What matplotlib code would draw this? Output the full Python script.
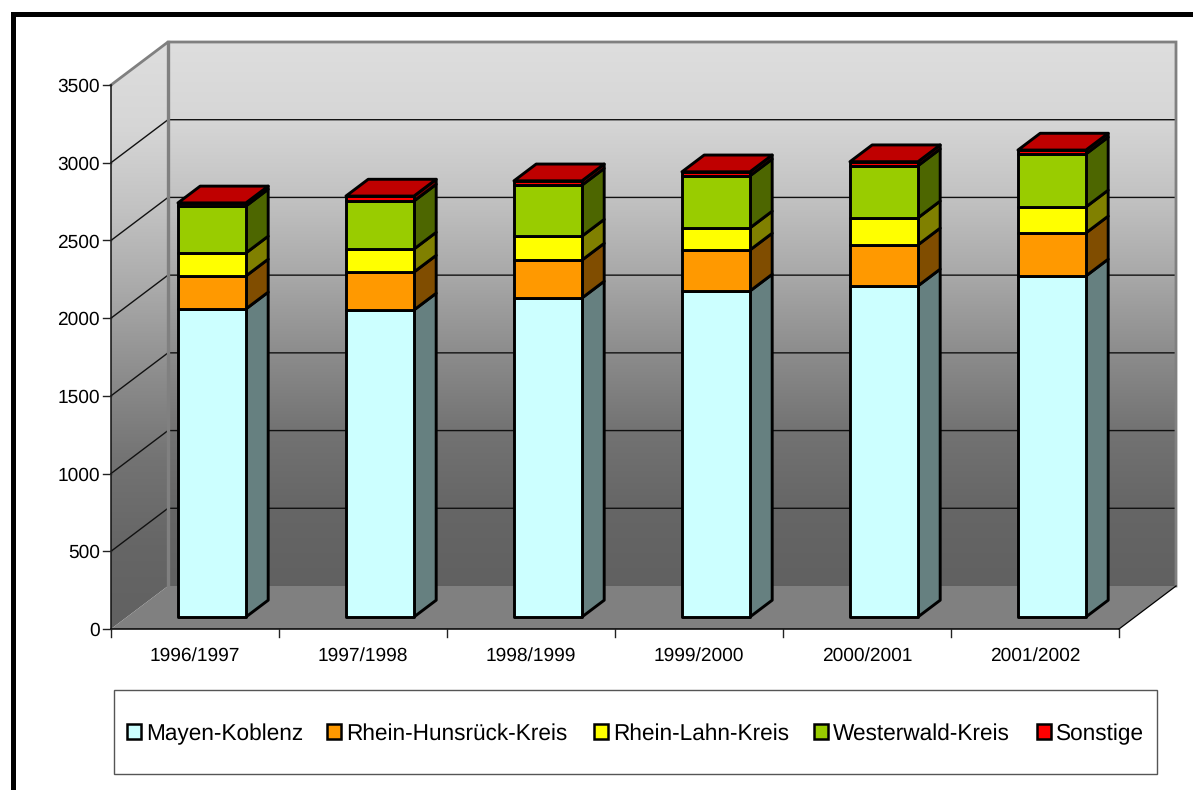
"""Stacked 3D-style column chart of enrolment by district."""

import numpy as np
import matplotlib

matplotlib.use("Agg")
import matplotlib.pyplot as plt
from matplotlib.colors import LinearSegmentedColormap
from matplotlib.patches import Polygon, Rectangle

plt.rcParams["font.family"] = ["Liberation Sans", "DejaVu Sans"]
plt.rcParams["text.hinting"] = "none"

years = ["1996/1997", "1997/1998", "1998/1999", "1999/2000", "2000/2001", "2001/2002"]
mayen_koblenz = [1982, 1975, 2052, 2097, 2130, 2194]
rhein_hunsrueck = [212, 244, 244, 264, 264, 277]
rhein_lahn = [148, 148, 154, 142, 174, 167]
westerwald = [302, 309, 328, 335, 335, 341]
sonstige = [20, 32, 28, 26, 26, 25]
y_ticks = [0, 500, 1000, 1500, 2000, 2500, 3000, 3500]

series_names = ["Mayen-Koblenz", "Rhein-Hunsrück-Kreis", "Rhein-Lahn-Kreis", "Westerwald-Kreis", "Sonstige"]
series_values = [mayen_koblenz, rhein_hunsrueck, rhein_lahn, westerwald, sonstige]
series_colors = ["#CCFFFF", "#FF9900", "#FFFF00", "#99CC00", "#FF0000"]

# wall shading from top to bottom, one grey level per band between grid lines
wall_greys = [0.87, 0.84, 0.76, 0.66, 0.55, 0.45, 0.40, 0.38]

W, H = 1193, 790
X0, Y0 = 111, 629
PX_PER_CAT = 168.0
PX_PER_UNIT = 544.0 / 3500.0

# depth vector of the chart box, in data units
DX = 57 / PX_PER_CAT
DY = 43 / PX_PER_UNIT
BAR_LEFT = 51 / PX_PER_CAT
BAR_WIDTH = 68 / PX_PER_CAT
BAR_D0, BAR_D1 = 0.28, 0.67

GREY = "#808080"


def shade(color, factor):
    rgb = np.array(matplotlib.colors.to_rgb(color)) * factor
    return tuple(rgb)


def depth(x, y, d):
    return (x + d * DX, y + d * DY)


def gradient_fill(ax, corners):
    xs = [c[0] for c in corners]
    ys = [c[1] for c in corners]
    cmap = LinearSegmentedColormap.from_list("wall", [(g, g, g) for g in wall_greys])
    ramp = np.linspace(0, 1, 256).reshape(-1, 1)
    img = ax.imshow(ramp, cmap=cmap, vmin=0, vmax=1, aspect="auto", zorder=1,
                    extent=(min(xs), max(xs), min(ys), max(ys)), origin="upper")
    img.set_clip_path(Polygon(corners, closed=True, transform=ax.transData))


def draw_box(ax):
    n = len(years)
    top = y_ticks[-1]
    back = [depth(0, 0, 1), depth(n, 0, 1), depth(n, top, 1), depth(0, top, 1)]
    left = [(0, 0), depth(0, 0, 1), depth(0, top, 1), (0, top)]
    floor = [(0, 0), (n, 0), depth(n, 0, 1), depth(0, 0, 1)]
    gradient_fill(ax, back)
    gradient_fill(ax, left)
    ax.add_patch(Polygon(floor, closed=True, fc="#808080", ec="none", zorder=2))

    # grid lines run along the left wall and across the back wall
    for v in y_ticks[1:-1]:
        ax.plot(*zip((0, v), depth(0, v, 1), depth(n, v, 1)), color="#111111", lw=1.0, zorder=3)

    ax.plot(*zip((0, top), depth(0, top, 1), depth(n, top, 1), depth(n, 0, 1)),
            color=GREY, lw=2.0, zorder=3, solid_joinstyle="miter")
    ax.plot(*zip(depth(0, 0, 1), depth(0, top, 1)), color=GREY, lw=2.4, zorder=3)
    ax.plot(*zip((n, 0), depth(n, 0, 1)), color="black", lw=0.9, zorder=3)

    # axis lines and ticks
    ax.plot([0, 0], [0, top], color="#111111", lw=1.1, zorder=4)
    ax.plot([0, n], [0, 0], color="black", lw=1.1, zorder=4)
    tick_y = 8 / PX_PER_UNIT
    tick_x = 8 / PX_PER_CAT
    for v in y_ticks:
        ax.plot([-tick_x, 0], [v, v], color="#222222", lw=1.0, zorder=4)
        ax.text(-tick_x - 3 / PX_PER_CAT, v - 7 / PX_PER_UNIT, str(v), ha="right", va="baseline",
                fontsize=13.8, color="black")
    for i in range(n + 1):
        ax.plot([i, i], [0, -tick_y], color="#222222", lw=1.0, zorder=4)
    for i, label in enumerate(years):
        ax.text(i + 0.5, -32 / PX_PER_UNIT, label, ha="center", va="baseline", fontsize=13.8, color="black")


def draw_bars(ax):
    bottoms = np.zeros(len(years))
    line = dict(ec="black", lw=2.1, joinstyle="round", zorder=5)
    for values, color in zip(series_values, series_colors):
        for i, v in enumerate(values):
            x0 = i + BAR_LEFT
            x1 = x0 + BAR_WIDTH
            y0 = bottoms[i]
            y1 = y0 + v
            front = [depth(x0, y0, BAR_D0), depth(x1, y0, BAR_D0), depth(x1, y1, BAR_D0), depth(x0, y1, BAR_D0)]
            side = [depth(x1, y0, BAR_D0), depth(x1, y0, BAR_D1), depth(x1, y1, BAR_D1), depth(x1, y1, BAR_D0)]
            ax.add_patch(Polygon(side, closed=True, fc=shade(color, 0.5), **line))
            ax.add_patch(Polygon(front, closed=True, fc=color, **line))
        bottoms += np.array(values)
    # the lid takes a slightly darker tone of the last series
    for i, total in enumerate(bottoms):
        x0 = i + BAR_LEFT
        x1 = x0 + BAR_WIDTH
        lid = [depth(x0, total, BAR_D0), depth(x1, total, BAR_D0), depth(x1, total, BAR_D1), depth(x0, total, BAR_D1)]
        ax.add_patch(Polygon(lid, closed=True, fc=shade(series_colors[-1], 0.75), **line))


def draw_legend(fig):
    def fx(px):
        return px / W

    def fy(py):
        return 1 - py / H

    fig.add_artist(Rectangle((fx(114), fy(774)), 1043 / W, 84 / H, fc="white", ec="#555555", lw=1.0,
                             transform=fig.transFigure))
    swatch_x = [126, 326, 593, 813, 1036]
    for name, color, sx in zip(series_names, series_colors, swatch_x):
        fig.add_artist(Rectangle((fx(sx + 1), fy(739)), 14 / W, 15 / H, fc=color, ec="black", lw=1.8,
                                 transform=fig.transFigure))
        fig.text(fx(sx + 20), fy(740), name, ha="left", va="baseline", fontsize=16.25, color="black")


def main():
    fig = plt.figure(figsize=(W / 100, H / 100), dpi=100, facecolor="white")
    ax = fig.add_axes([0, 0, 1, 1])
    ax.set_xlim(-X0 / PX_PER_CAT, (W - X0) / PX_PER_CAT)
    ax.set_ylim((Y0 - H) / PX_PER_UNIT, Y0 / PX_PER_UNIT)
    ax.axis("off")

    draw_box(ax)
    draw_bars(ax)
    ax.set_xlim(-X0 / PX_PER_CAT, (W - X0) / PX_PER_CAT)
    ax.set_ylim((Y0 - H) / PX_PER_UNIT, Y0 / PX_PER_UNIT)

    draw_legend(fig)

    # heavy frame along the top and left edges
    fig.add_artist(Rectangle((11 / W, 0), 5 / W, 1 - 12 / H, fc="black", ec="none", transform=fig.transFigure))
    fig.add_artist(Rectangle((11 / W, 1 - 17 / H), 1 - 11 / W, 5 / H, fc="black", ec="none", transform=fig.transFigure))

    fig.savefig("out.png", dpi=100)
    plt.close(fig)


if __name__ == "__main__":
    main()
